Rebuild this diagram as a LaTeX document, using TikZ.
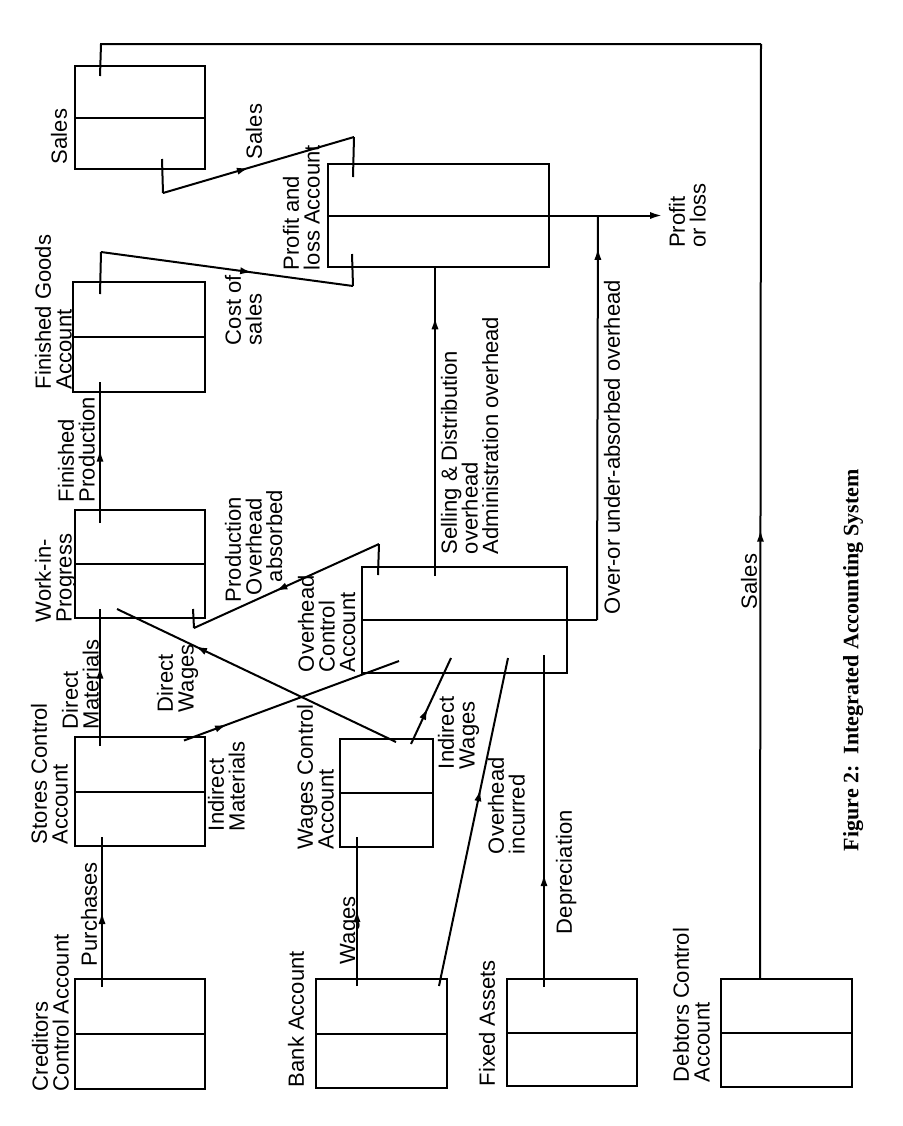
\documentclass[tikz,border=0pt]{standalone}
\usepackage{fontspec}
\setmainfont{Liberation Sans}
\newfontfamily\figfont{Liberation Serif}
\usetikzlibrary{arrows.meta,decorations.markings}

\begin{document}
\begin{tikzpicture}[x=0.5pt,y=-0.5pt,line width=1pt]
\tikzset{every node/.style={font=\fontsize{11}{10.3}\selectfont},
  acct/.style={draw,line width=1pt,inner sep=0,minimum width=65pt,minimum height=54pt},
  lbl/.style={rotate=90,anchor=north west,align=left,inner sep=0},
  flow/.style={postaction={decorate},decoration={markings,
    mark=at position #1 with {\arrow{Latex[length=6pt,width=3.6pt]}}}}}
\useasboundingbox (0,0) rectangle (903,1126);

% Accounts (drawn turned, as in the book)
\node[acct,minimum height=51.5pt] (sales) at (140,117.5) {};
\node[acct,minimum width=66pt,minimum height=55pt] (fg) at (139,337) {};
\node[acct] (wip) at (140,564) {};
\node[acct,minimum height=54.5pt] (stores) at (140,791.5) {};
\node[acct,minimum height=55pt] (cred) at (140,1034) {};
\node[acct,minimum width=46.5pt] (wages) at (386.5,793) {};
\node[acct,minimum width=65.5pt,minimum height=54.5pt] (bank) at (381.5,1033.5) {};
\node[acct,minimum height=53.5pt] (fixed) at (572,1032.5) {};
\node[acct,minimum width=65.5pt] (debt) at (786.5,1033) {};
\node[acct,minimum width=102.5pt,minimum height=53pt] (ovh) at (464.5,620) {};
\node[acct,minimum width=110.5pt,minimum height=51.5pt] (pl) at (438.5,215.5) {};
\foreach \n in {sales,fg,wip,stores,cred,wages,bank,fixed,debt,ovh,pl}
  \draw (\n.west) -- (\n.east);

% Account names
\node[lbl] (l-sales) at (50,165) {Sales};
\node[lbl] (l-fg) at (34,390) {Finished Goods\\Account};
\node[lbl] (l-wip) at (34,623) {Work-in-\\Progress};
\node[lbl] (l-stores) at (30,845) {Stores Control\\Account};
\node[lbl] (l-cred) at (31,1092) {Creditors\\Control Account};
\node[lbl] (l-bank) at (287,1088) {Bank Account};
\node[lbl] (l-wages) at (296,850) {Wages Control\\Account};
\node[lbl] (l-ovh) at (297,673) {Overhead\\Control\\Account};
\node[lbl] (l-pl) at (282,271) {Profit and\\loss Account};
\node[lbl] (l-fixed) at (478,1087) {Fixed Assets};
\node[lbl] (l-debt) at (672,1083) {Debtors Control\\Account};

% Bends of the connectors
\coordinate (cs-a) at (101,252);
\coordinate (cs-b) at (353,286);
\coordinate (sl-a) at (163,193);
\coordinate (sl-b) at (354,137);
\coordinate (lp-a) at (761,44);
\coordinate (lp-b) at (101,44);
\coordinate (po-a) at (379,544);
\coordinate (po-b) at (194,628);
\coordinate (ou-a) at (597,620);

% Flows
\draw[flow=.5] ([shift={(28,9)}]cred.north west) -- ([shift={(28,-10)}]stores.south west);
\draw[flow=.58] ([shift={(26,10)}]stores.north west) -- ([shift={(26,-10)}]wip.south west);
\draw[flow=.52] ([shift={(26,14)}]wip.north west) -- ([shift={(28,-11)}]fg.south west);
\draw ([shift={(28,13)}]fg.north west) -- (cs-a);
\draw[flow=.6] (cs-a) -- (cs-b);
\draw (cs-b) -- ([shift={(25,-14)}]pl.south west);
\draw ([shift={(88,-11)}]sales.south west) -- (sl-a);
\draw[flow=.45] (sl-a) -- (sl-b);
\draw (sl-b) -- ([shift={(26,14)}]pl.north west);
\draw[flow=.48] ([shift={(40,0)}]debt.north west) -- (lp-a);
\draw (lp-a) -- (lp-b) -- ([shift={(26,11)}]sales.north west);
\draw[flow=.51] ([shift={(42,8)}]bank.north west) -- ([shift={(18,-11)}]wages.south west);
\draw[flow=.34] ([shift={(38,9)}]fixed.north west) -- ([shift={(183,-19)}]ovh.south west);
\draw[flow=.6] ([shift={(-9,8)}]bank.north east) -- ([shift={(147,-16)}]ovh.south west);
\draw[flow=.42] ([shift={(72,6)}]wages.north west) -- ([shift={(90,-16)}]ovh.south west);
\draw[flow=.72] ([shift={(57,4)}]wages.north west) -- ([shift={(43,-10)}]wip.south west);
\draw[flow=.2] ([shift={(110,4.5)}]stores.north west) -- ([shift={(38,-13)}]ovh.south west);
\draw ([shift={(17,9)}]ovh.north west) -- (po-a);
\draw[flow=.56] (po-a) -- (po-b);
\draw (po-b) -- ([shift={(119,-10)}]wip.south west);
\draw[flow=.84] ([shift={(74,10)}]ovh.north west) -- ([shift={(108,0)}]pl.south west);
\draw (ovh.east) -- (ou-a);
\draw[flow=.92] (ou-a) -- ([shift={(48,0)}]pl.east);
\node[lbl,anchor=north,inner sep=3pt] (pol) at (662,215.5) {Profit\\or loss};
\draw[-{Latex[length=6pt,width=3.6pt]}] (pl.east) -- (pol.north);

% Flow labels
\node[lbl] at (80,967) {Purchases};
\node[lbl] at (339,965) {Wages};
\node[lbl] at (555,935) {Depreciation};
\node[lbl] at (487,855) {Overhead\\incurred};
\node[lbl] at (437,770) {Indirect\\Wages};
\node[lbl] at (156,713) {Direct\\Wages};
\node[lbl] at (207,832) {Indirect\\Materials};
\node[lbl] at (61,730) {Direct\\Materials};
\node[lbl] at (57,503) {Finished\\Production};
\node[lbl] at (224,603) {Production\\\hspace{3.5pt}Overhead\\\hspace{10pt}absorbed};
\node[lbl] at (224,346) {Cost of\\sales};
\node[lbl] at (245,160) {Sales};
\node[lbl] at (440,555) {Selling \& Distribution\\overhead\\Administration overhead};
\node[lbl] at (603,615) {Over-or under-absorbed overhead};
\node[lbl] at (740,610) {Sales};

% Caption
\node[lbl,font=\figfont\bfseries\fontsize{11}{13}\selectfont] (cap) at (842,852) {Figure 2:~~Integrated Accounting System};

\end{tikzpicture}
\end{document}
